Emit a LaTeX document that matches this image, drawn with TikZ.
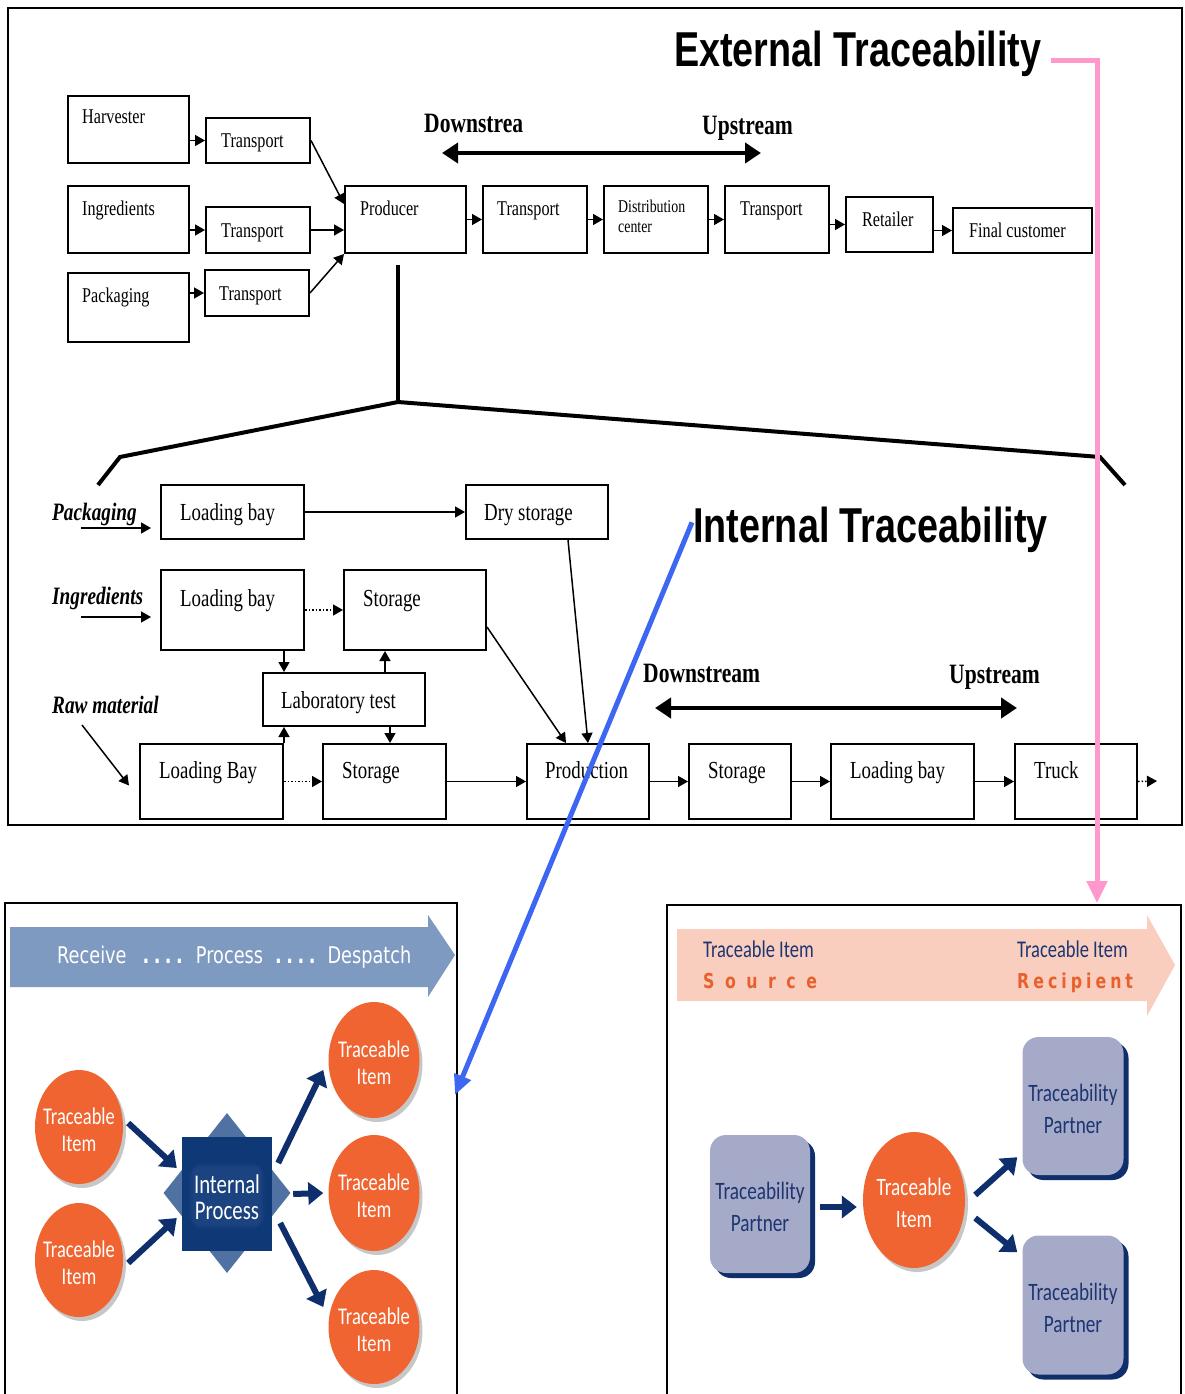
\documentclass[tikz,border=0pt]{standalone}
\usepackage{fontspec}
\usepackage{graphicx}
\setmainfont{Liberation Serif}[FakeStretch=0.77]
\newfontfamily\titlefont{Liberation Sans}[FakeStretch=0.77]
\newfontfamily\panelfont{Carlito}[FakeStretch=0.77]
\newfontfamily\bandfont{DejaVu Sans}[FakeStretch=0.77]
\usetikzlibrary{arrows.meta,shadows,shapes.geometric,calc}

\definecolor{pinkln}{HTML}{FF99CC}
\definecolor{blueln}{HTML}{3D67F2}
\definecolor{steel}{HTML}{7E9AC0}
\definecolor{orng}{HTML}{EF6430}
\definecolor{navy}{HTML}{0E2E6C}
\definecolor{sqblue}{HTML}{0F3876}
\definecolor{diamblue}{HTML}{4F72A3}
\definecolor{glowblue}{HTML}{2A4F8C}
\definecolor{lav}{HTML}{A5AAC9}
\definecolor{peach}{HTML}{F9CEBF}
\definecolor{navytxt}{HTML}{1D3571}
\definecolor{orngtxt}{HTML}{E8612D}

% rectangle node spanning (x1,y1)-(x2,y2)
\newcommand\flowbox[5]{%
  \node[box, minimum width={(#4-#2)*1pt}, minimum height={(#5-#3)*1pt}]
    (#1) at ({(#2+#4)/2},{(#3+#5)/2}) {};}

\begin{document}
\begin{tikzpicture}[x=1pt,y=-1pt,
  box/.style={draw, line width=2pt, inner sep=0pt},
  arr/.style={line width=1.5pt, -{Triangle[length=10pt,width=11pt]}},
  darr/.style={arr, dotted},
  bigarr/.style={line width=4.5pt, {Triangle[length=16pt,width=20pt]}-{Triangle[length=16pt,width=20pt]}},
  tA/.style={anchor=base west, inner sep=0pt, font=\fontsize{21}{24}\selectfont},
  tS/.style={anchor=base west, inner sep=0pt, font=\fontsize{18}{20}\selectfont},
  tB/.style={anchor=base west, inner sep=0pt, font=\fontsize{24.5}{28}\selectfont},
  lbl/.style={anchor=base west, inner sep=0pt, font=\bfseries\itshape\fontsize{25}{28}\selectfont},
  hd/.style={anchor=base west, inner sep=0pt, font=\bfseries\fontsize{28}{30}\selectfont},
  title/.style={anchor=base west, inner sep=0pt, font=\titlefont\bfseries\fontsize{49}{52}\selectfont},
  frame/.style={line width=2pt},
  tcirc/.style={ellipse, fill=orng, inner sep=0pt,
    drop shadow={shadow xshift=3pt, shadow yshift=-4pt, opacity=0.22, fill=black}},
  ctext/.style={white, align=center, inner sep=0pt, font=\panelfont\fontsize{24}{27}\selectfont},
  narr/.style={draw=navy, line width=6pt, -{Triangle[length=15pt,width=22pt]}},
  pbox/.style={fill=lav, rounded corners=16pt, inner sep=0pt,
    drop shadow={shadow xshift=5pt, shadow yshift=-5pt, fill=navy, opacity=1}},
  ptext/.style={navytxt, align=center, inner sep=0pt, font=\panelfont\fontsize{25}{32}\selectfont}
]
\useasboundingbox (0,0) rectangle (1184,1394);
\fill[white] (0,0) rectangle (1184,1394);

%% ---------- supply chain (external) ----------
\draw[frame] (8,8) rectangle (1182,825);

\flowbox{harv}{68}{96}{189}{163}
\node[tA] (harvT) at (82,124) {Harvester};
\flowbox{tra}{206}{118}{310}{163}
\node[tA] (traT) at (221,147) {Transport};
\flowbox{ingr}{68}{186}{189}{253}
\node[tA] (ingrT) at (82,215) {Ingredients};
\flowbox{trb}{206}{207}{310}{253}
\node[tA] (trbT) at (221,237) {Transport};
\flowbox{pack}{68}{273}{189}{342}
\node[tA] (packT) at (82,302) {Packaging};
\flowbox{trc}{205}{270}{309}{316}
\node[tA] (trcT) at (219,300) {Transport};
\flowbox{prod}{345}{186}{466}{253}
\node[tA] (prodT) at (360,215) {Producer};
\flowbox{trd}{483}{186}{587}{253}
\node[tA] (trdT) at (497,215) {Transport};
\flowbox{dist}{604}{186}{708}{253}
\node[tS] (distT) at (618,212) {Distribution};
\node[tS] (distT2) at (618,232) {center};
\flowbox{tre}{725}{186}{829}{253}
\node[tA] (treT) at (740,215) {Transport};
\flowbox{ret}{846}{197}{933}{252}
\node[tA] (retT) at (862,226) {Retailer};
\flowbox{fin}{953}{208}{1092}{253}
\node[tA] (finT) at (969,237) {Final customer};

\draw[arr] (harv.east |- tra.west) -- (tra.west);
\draw[arr] (ingr.east |- trb.west) -- (trb.west);
\draw[arr] (pack.east |- trc.west) -- (trc.west);
\draw[arr] (tra.east) -- ([yshift=-19pt]prod.north west);
\draw[arr] (trb.east) -- (trb.east -| prod.west);
\draw[arr] (trc.east) -- (prod.south west);
\draw[arr] (prod.east) -- (trd.west);
\draw[arr] (trd.east) -- (dist.west);
\draw[arr] (dist.east) -- (tre.west);
\draw[arr] (tre.east |- ret.west) -- (ret.west);
\draw[arr] (ret.east |- fin.west) -- (fin.west);

\node[hd] (dsTop) at (424,132) {Downstrea};
\node[hd] (usTop) at (702,135) {Upstream};
\coordinate (dsTopL) at (442,153);
\coordinate (dsTopR) at (761,153);
\draw[bigarr] (dsTopL) -- (dsTopR);

% zoom bracket opening the producer
\coordinate (apex) at (398,402);
\draw[line width=4pt] (398,265) -- (apex);
\draw[line width=4pt] (98,485) -- (120,457) -- (apex) -- (1100,457) -- (1125,485);

\node[title] (ext) at (674,67) {External Traceability};
\node[title] (int) at (693,542) {Internal Traceability};

%% ---------- producer's internal flow ----------
\node[lbl] (lPack) at (52,520) {Packaging};
\node[lbl] (lIngr) at (52,604) {Ingredients};
\node[lbl] (lRaw) at (52,713) {Raw material};

\flowbox{lbp}{161}{485}{304}{539}
\node[tB] (lbpT) at (180,520) {Loading bay};
\flowbox{dry}{466}{485}{608}{539}
\node[tB] (dryT) at (484,520) {Dry storage};
\flowbox{lbi}{161}{570}{304}{650}
\node[tB] (lbiT) at (180,606) {Loading bay};
\flowbox{sti}{344}{570}{486}{650}
\node[tB] (stiT) at (363,606) {Storage};
\flowbox{lab}{263}{673}{425}{726}
\node[tB] (labT) at (281,708) {Laboratory test};
\flowbox{lbr}{140}{744}{283}{819}
\node[tB] (lbrT) at (159,778) {Loading Bay};
\flowbox{str}{323}{744}{446}{819}
\node[tB] (strT) at (342,778) {Storage};
\flowbox{pdn}{527}{744}{649}{819}
\node[tB] (pdnT) at (545,778) {Production};
\flowbox{sto}{689}{744}{791}{819}
\node[tB] (stoT) at (708,778) {Storage};
\flowbox{lbo}{831}{744}{974}{819}
\node[tB] (lboT) at (850,778) {Loading bay};
\flowbox{trk}{1015}{744}{1137}{819}
\node[tB] (trkT) at (1034,778) {Truck};

\coordinate (inPack) at (81,528);
\coordinate (inIngr) at (81,617);
\coordinate (inRaw) at (82,725);
\draw[arr] (inPack) -- ([shift={(-9pt,-16pt)}]lbp.west);
\draw[arr] (inIngr) -- ([shift={(-9pt,-7pt)}]lbi.west);
\draw[arr] (inRaw) -- ([shift={(-10pt,-4pt)}]lbr.west);

\draw[arr] (lbp.east) -- (dry.west);
\draw[darr] (lbi.east) -- (sti.west);
\draw[arr] ([xshift=-21pt]lbi.south east) -- ([xshift=-21pt]lbi.south east |- lab.north);
\draw[arr] ([xshift=-41pt]lab.north east) -- ([xshift=-41pt]lab.north east |- sti.south);
\draw[arr] (lbr.north east) -- (lbr.north east |- lab.south);
\draw[arr] ([xshift=-36pt]lab.south east) -- ([xshift=-36pt]lab.south east |- str.north);
\draw[darr] (lbr.east) -- (str.west);
\draw[arr] (str.east) -- (pdn.west);
\draw[arr] ([yshift=-17pt]sti.east) -- ([xshift=-22pt]pdn.north);
\draw[arr] ([xshift=31pt]dry.south) -- (pdn.north);
\draw[arr] (pdn.east) -- (sto.west);
\draw[arr] (sto.east) -- (lbo.west);
\draw[arr] (lbo.east) -- (trk.west);
\coordinate (trkOut) at (1157,781);
\draw[darr] (trk.east) -- (trkOut);

\node[hd] (dsBot) at (643,682) {Downstream};
\node[hd] (usBot) at (949,683) {Upstream};
\coordinate (dsBotL) at (655,708);
\coordinate (dsBotR) at (1017,708);
\draw[bigarr] (dsBotL) -- (dsBotR);

%% ---------- internal process panel ----------
\draw[frame] (5,1400) -- (5,903) -- (457,903) -- (457,1400);
\fill[steel] (10,927) -- (428,927) -- (428,915) -- (455,955) -- (428,997) -- (428,987) -- (10,987) -- cycle;
\node[anchor=base west, inner sep=0pt, white, font=\bandfont\fontsize{23}{25}\selectfont] (bandL)
  at (57,963) {Receive\hspace{16pt}\textbf{.\hspace{4.5pt}.\hspace{4.5pt}.\hspace{4.5pt}.}\hspace{13pt}Process\hspace{12pt}\textbf{.\hspace{4.5pt}.\hspace{4.5pt}.\hspace{4.5pt}.}\hspace{12pt}Despatch};

\node[tcirc, minimum width=88pt, minimum height=114pt] (c1) at (79,1127) {};
\node[ctext] (c1T) at (79,1130) {Traceable\\Item};
\node[tcirc, minimum width=88pt, minimum height=114pt] (c2) at (79,1260) {};
\node[ctext] (c2T) at (79,1263) {Traceable\\Item};
\node[tcirc, minimum width=91pt, minimum height=116pt] (c3) at (374,1060) {};
\node[ctext] (c3T) at (374,1063) {Traceable\\Item};
\node[tcirc, minimum width=91pt, minimum height=116pt] (c4) at (374,1193) {};
\node[ctext] (c4T) at (374,1196) {Traceable\\Item};
\node[tcirc, minimum width=91pt, minimum height=114pt] (c5) at (374,1327) {};
\node[ctext] (c5T) at (374,1330) {Traceable\\Item};

\node[diamond, fill=diamblue, inner sep=0pt, minimum width=127pt, minimum height=160pt] (ipd) at (227,1193) {};
\node[fill=sqblue, inner sep=0pt, minimum width=90pt, minimum height=114pt] (ip) at (227,1194) {};
% soft halo behind the label
\foreach \r/\o in {14/0.15,10/0.2,6/0.25}
  \fill[glowblue, opacity=\o, rounded corners=\r pt] ({196-\r/2},{1170-\r/2}) rectangle ({258+\r/2},{1222+\r/2});
\node[white, align=center, inner sep=0pt, font=\panelfont\fontsize{27}{26}\selectfont] (ipT) at (227,1197) {Internal\\Process};

\draw[narr] ([shift={(5pt,4pt)}]c1.east) -- ([shift={(-5pt,26pt)}]ip.west);
\draw[narr] ([shift={(5pt,-3pt)}]c2.east) -- ([shift={(-5pt,-24pt)}]ip.west);
\draw[narr] ([shift={(6pt,31pt)}]ip.east) -- ([shift={(-5pt,-10pt)}]c3.west);
\draw[narr] ([xshift=21pt]ip.east) -- ([xshift=-5pt]c4.west);
\draw[narr] ([shift={(8pt,-29pt)}]ip.east) -- ([shift={(-5pt,20pt)}]c5.west);

%% ---------- partner panel ----------
\draw[frame] (667,1400) -- (667,905) -- (1181,905) -- (1181,1400);
\fill[peach] (677,929) -- (1147,929) -- (1147,915) -- (1175,965) -- (1147,1016) -- (1147,1001) -- (677,1001) -- cycle;
\node[anchor=base west, inner sep=0pt, navytxt, font=\panelfont\fontsize{24}{26}\selectfont] (srcT) at (703,957) {Traceable Item};
\node[anchor=base west, inner sep=0pt, orngtxt, font=\bandfont\bfseries\fontsize{20.5}{22}\selectfont] (srcS)
  at (703,988) {S\hspace{10.5pt}o\hspace{10.5pt}u\hspace{10.5pt}r\hspace{10.5pt}c\hspace{10.5pt}e};
\node[anchor=base west, inner sep=0pt, navytxt, font=\panelfont\fontsize{24}{26}\selectfont] (rcpT) at (1017,957) {Traceable Item};
\node[anchor=base west, inner sep=0pt, orngtxt, font=\bandfont\bfseries\fontsize{20.5}{22}\selectfont] (rcpS)
  at (1017,988) {R\hspace{4pt}e\hspace{4pt}c\hspace{4pt}i\hspace{4pt}p\hspace{4pt}i\hspace{4pt}e\hspace{4pt}n\hspace{4pt}t};

\node[pbox, minimum width=100pt, minimum height=138pt] (lp) at (760,1204) {};
\node[ptext] (lpT) at (760,1207) {Traceability\\Partner};
\node[pbox, minimum width=101pt, minimum height=138pt] (rt) at (1073,1106) {};
\node[ptext] (rtT) at (1073,1109) {Traceability\\Partner};
\node[pbox, minimum width=101pt, minimum height=139pt] (rb) at (1073,1305) {};
\node[ptext] (rbT) at (1073,1308) {Traceability\\Partner};

\node[tcirc, minimum width=102pt, minimum height=136pt] (ti) at (914,1200) {};
\node[ctext, font=\panelfont\fontsize{25}{32}\selectfont] (tiT) at (914,1203) {Traceable\\Item};

\draw[narr] ([shift={(10pt,-3pt)}]lp.east) -- ([shift={(-6pt,-7pt)}]ti.west);
\draw[narr] ([shift={(10pt,5pt)}]ti.east) -- ([shift={(-5pt,18pt)}]rt.south west);
\draw[narr] ([shift={(10pt,-18pt)}]ti.east) -- ([shift={(-5pt,-17pt)}]rb.north west);

%% ---------- links from the titles to the panels ----------
\coordinate (toPartner) at (1097,903);
\coordinate (toProcess) at (455,1095);
\draw[pinkln, line width=5pt, -{Triangle[length=22pt,width=20pt]}]
  ([shift={(10pt,-6pt)}]ext.east) -| (toPartner);
\draw[blueln, line width=5pt, -{Triangle[length=20pt,width=17pt]}]
  ([shift={(-1pt,7pt)}]int.west) -- (toProcess);
\end{tikzpicture}
\end{document}
